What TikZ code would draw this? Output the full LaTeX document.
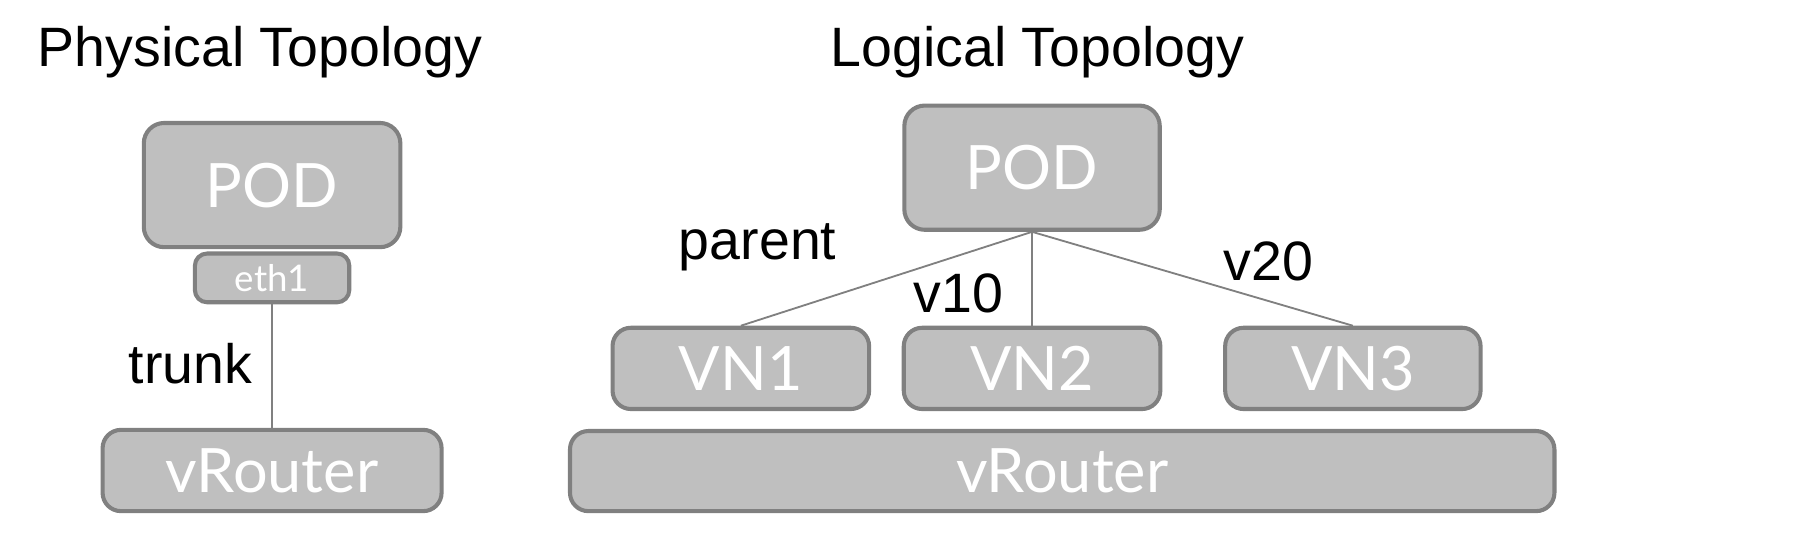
\documentclass[tikz,border=0pt]{standalone}
\usepackage{fontspec}
\setmainfont{Liberation Sans}
\newfontfamily\latofont{Lato}
\usetikzlibrary{positioning}
\definecolor{boxgray}{HTML}{BFBFBF}
\definecolor{edgegray}{HTML}{808080}

\begin{document}
\begin{tikzpicture}[x=0.01cm,y=-0.01cm,
  box/.style={draw=edgegray,fill=boxgray,line width=1pt,rounded corners=4.5pt,
    text=white,font=\latofont\fontsize{15}{18}\selectfont,inner sep=0pt},
  lbl/.style={font=\fontsize{13.6}{16}\selectfont,inner sep=0pt},
  link/.style={edgegray,line width=0.45pt}]

  \useasboundingbox (0,0) rectangle (1560,469.7);

  % ---- Titles ------------------------------------------------
  \node[lbl] (physTitle) at (224,45) {Physical Topology};
  \node[lbl] (logTitle)  at (894,45) {Logical Topology};

  % ============================================================
  %  LEFT SIDE: physical topology
  % ============================================================
  \node[box,minimum width=2.21cm,minimum height=1.07cm,rounded corners=5pt] (physPod) at (234.5,159.5) {POD};
  \node[box,minimum width=1.33cm,minimum height=0.42cm,rounded corners=3pt,
        font=\latofont\fontsize{9}{11}\selectfont] (eth) at (234.5,239.5) {eth1};
  \node[box,minimum width=2.92cm,minimum height=0.70cm] (physRouter) at (234.5,405.5) {vRouter};
  % Trunk
  \draw[link] (eth) -- (physRouter);
  \node[lbl] (trunk) at (164,313) {trunk};

  % ============================================================
  %  RIGHT SIDE: logical topology
  % ============================================================
  \node[box,minimum width=2.20cm,minimum height=1.07cm,rounded corners=5pt] (logPod) at (889.5,144.5) {POD};
  \node[box,minimum width=2.21cm,minimum height=0.70cm] (vn1) at (638.5,317.5) {VN1};
  \node[box,minimum width=2.21cm,minimum height=0.70cm] (vn2) at (889.5,317.5) {VN2};
  \node[box,minimum width=2.20cm,minimum height=0.70cm] (vn3) at (1166,317.5) {VN3};
  \node[box,minimum width=8.48cm,minimum height=0.69cm] (logRouter) at (915.5,406) {vRouter};
  % Links from POD to the VNs
  \foreach \vn in {vn1,vn2,vn3}{
    \draw[link] (logPod.south) -- (\vn.north);
  }
  % Labels
  \node[lbl] (parent) at (653,213) {parent};
  \node[lbl] (vten)   at (826,253) {v10};
  \node[lbl] (vtwenty) at (1093,225) {v20};

\end{tikzpicture}
\end{document}
